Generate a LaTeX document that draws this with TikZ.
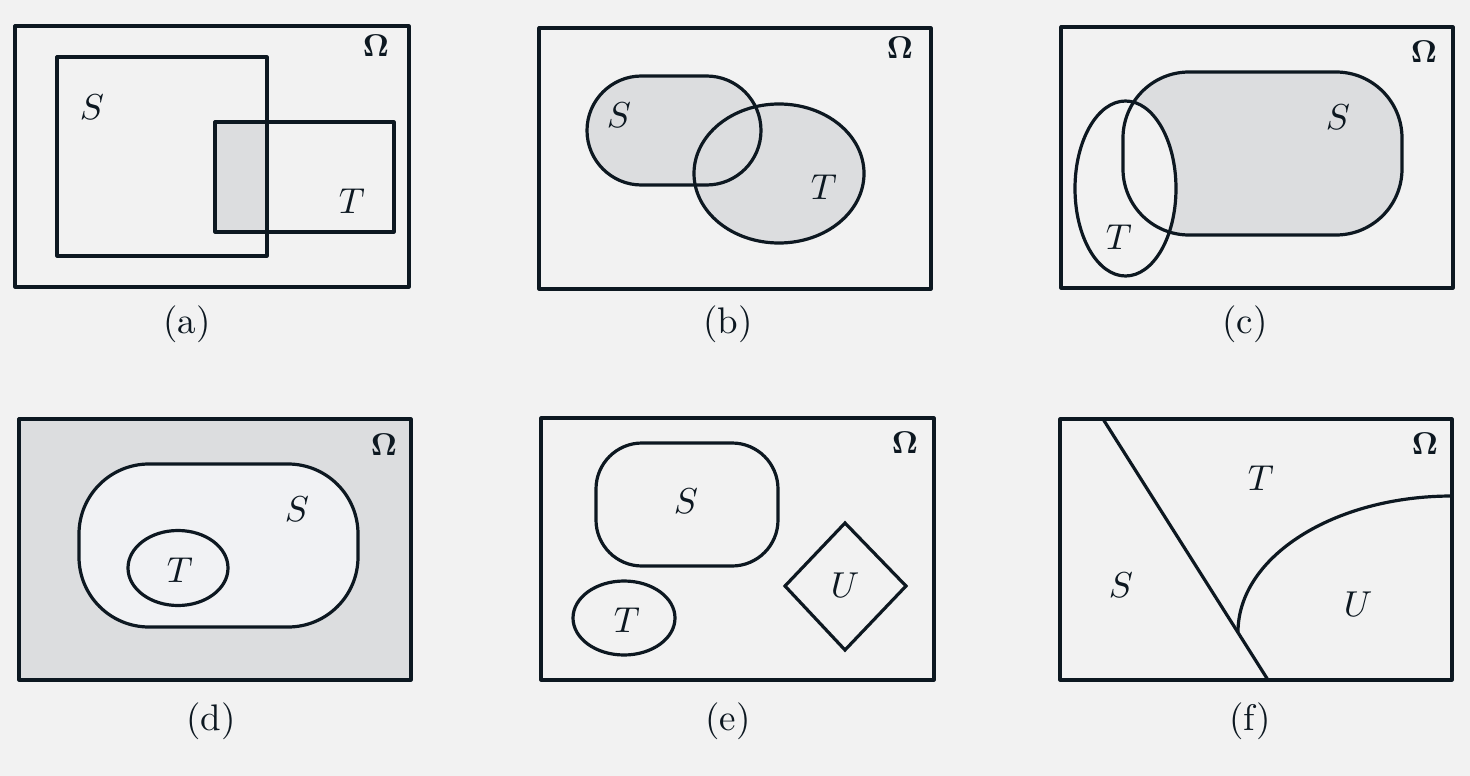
\documentclass[tikz,border=0pt]{standalone}
\usetikzlibrary{calc}
\definecolor{bg}{HTML}{F2F2F2}
\definecolor{grayfill}{HTML}{DCDDDF}
\definecolor{lightfill}{HTML}{F1F2F4}
\definecolor{ink}{HTML}{0D1821}
\tikzset{
  outline/.style={draw=ink, line width=3.2pt, line join=round},
  lbl/.style={text=ink, inner sep=0pt, font=\normalsize, scale=3.6},
  omega/.style={text=ink, inner sep=0pt, font=\normalsize, scale=3.15},
  captxt/.style={text=ink, inner sep=0pt, font=\normalsize, scale=3.7},
}
\begin{document}
\begin{tikzpicture}[x=1pt,y=-1pt]
\fill[bg] (0,0) rectangle (1470,776);
\useasboundingbox (0,0) rectangle (1470,776);

% ---------- (a)
\fill[grayfill] (215,122) rectangle (267,232);
\draw[outline] (15,26) rectangle (409,287);
\draw[outline] (57,57) rectangle (267,256);
\draw[outline] (215,122) rectangle (394,232);
\node[omega] (oa) at (376,46) {$\mathbf{\Omega}$};
\node[lbl] (sa) at (92,107) {$S$};
\node[lbl] (ta) at (352,201) {$T$};
\node[captxt] (ca) at (187,324) {(a)};

% ---------- (b)
\fill[grayfill, rounded corners=54.5pt] (587,76) rectangle (761,185);
\fill[grayfill] (779,173.5) ellipse [x radius=85, y radius=69.5];
\draw[outline] (539,28) rectangle (931,289);
\draw[outline, rounded corners=54.5pt] (587,76) rectangle (761,185);
\draw[outline] (779,173.5) ellipse [x radius=85, y radius=69.5];
\node[omega] (ob) at (900,48) {$\mathbf{\Omega}$};
\node[lbl] (sb) at (619,115) {$S$};
\node[lbl] (tb) at (824,187) {$T$};
\node[captxt] (cb) at (728,324) {(b)};

% ---------- (c)
\fill[grayfill, rounded corners=66pt] (1123,72) rectangle (1402,235);
\fill[bg] (1125.5,188.5) ellipse [x radius=50.5, y radius=87.5];
\draw[outline] (1061,27) rectangle (1453,288);
\draw[outline, rounded corners=66pt] (1123,72) rectangle (1402,235);
\draw[outline] (1125.5,188.5) ellipse [x radius=50.5, y radius=87.5];
\node[omega] (oc) at (1424,52) {$\mathbf{\Omega}$};
\node[lbl] (sc) at (1338,117) {$S$};
\node[lbl] (tc) at (1119,237) {$T$};
\node[captxt] (cc) at (1245,324) {(c)};

% ---------- (d)
\fill[grayfill] (19,419) rectangle (411,680);
\fill[lightfill, rounded corners=70pt] (79,464) rectangle (358,627);
\draw[outline] (19,419) rectangle (411,680);
\draw[outline, rounded corners=70pt] (79,464) rectangle (358,627);
\draw[outline] (178,568) ellipse [x radius=50, y radius=37.5];
\node[omega] (od) at (384,445) {$\mathbf{\Omega}$};
\node[lbl] (sd) at (297,509) {$S$};
\node[lbl] (td) at (180,570) {$T$};
\node[captxt] (cd) at (211,721) {(d)};

% ---------- (e)
\draw[outline] (541,418) rectangle (934,680);
\draw[outline, rounded corners=46pt] (596,443) rectangle (778,566);
\draw[outline] (624,618) ellipse [x radius=51, y radius=37];
\draw[outline, line join=miter] (785,586) -- (845,523) -- (906,586) -- (845,650) -- cycle;
\node[omega] (oe) at (905,443) {$\mathbf{\Omega}$};
\node[lbl] (se) at (686,501) {$S$};
\node[lbl] (te) at (627,620) {$T$};
\node[lbl] (ue) at (845,585) {$U$};
\node[captxt] (ce) at (728,721) {(e)};

% ---------- (f)
\draw[outline] (1060,419) rectangle (1452,680);
\draw[outline] (1103,419) -- (1268,680);
\draw[outline] (1452,496) arc [start angle=90, end angle=180, x radius=214, y radius=-136];
\node[omega] (of) at (1425,444) {$\mathbf{\Omega}$};
\node[lbl] (tf) at (1261,478) {$T$};
\node[lbl] (sf) at (1121,585) {$S$};
\node[lbl] (uf) at (1358,604) {$U$};
\node[captxt] (cf) at (1250,721) {(f)};
\end{tikzpicture}
\end{document}
